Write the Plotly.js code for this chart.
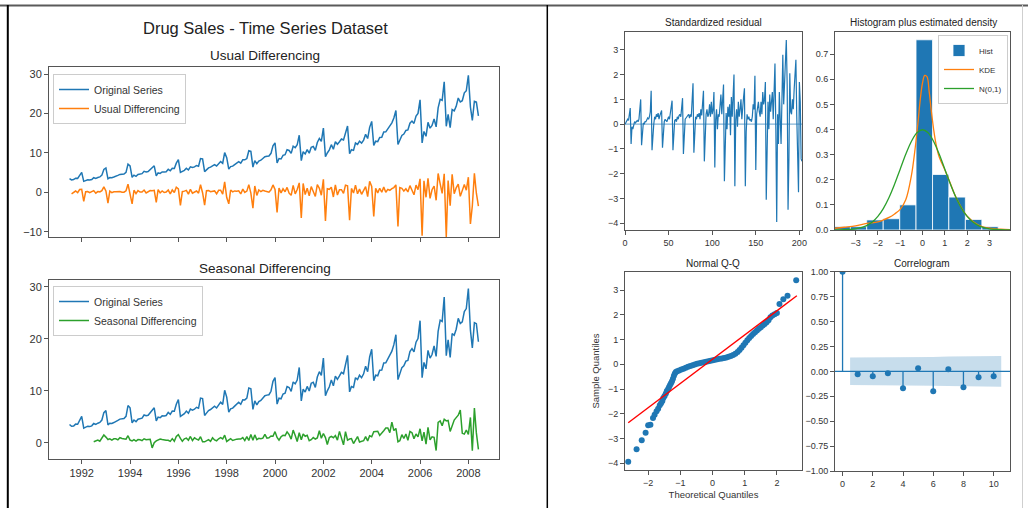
<!DOCTYPE html>
<html><head><meta charset="utf-8">
<script src="https://cdn.plot.ly/plotly-3.0.1.min.js"></script>
<style>html,body{margin:0;padding:0;background:#fff;} #chart{width:1028px;height:508px;}</style>
</head><body><div id="chart"></div>
<script>
// ---------------- DATA ----------------
const startYear = 1991, startMonth = 7;   // first observation: July 1991
const drugSales = [
  3.526591, 3.180891, 3.252221, 3.611003, 3.565869, 4.306371,
  5.088335, 2.814520, 2.985811, 3.204780, 3.127578, 3.270523, 3.737851, 3.558776, 3.777202, 3.924490, 4.386531, 5.810549,
  6.192068, 3.450857, 3.772307, 3.734303, 3.905399, 4.049687, 4.315566, 4.562185, 4.608662, 4.667851, 5.093841, 7.179962,
  6.731473, 3.841278, 4.394076, 4.075341, 4.540645, 4.645615, 4.752607, 5.350605, 5.204455, 5.301651, 5.773742, 6.204593,
  6.749484, 4.216067, 4.949234, 4.823660, 5.194137, 5.170886, 5.256148, 5.855277, 5.490729, 6.115293, 6.088473, 7.416598,
  8.329452, 5.069796, 5.262557, 5.597126, 6.110296, 5.689161, 6.486849, 6.300816, 6.467053, 6.828983, 6.649205, 8.606629,
  8.524471, 5.277159, 5.714448, 6.214568, 6.411023, 6.667330, 7.050713, 6.704671, 7.250530, 7.819868, 7.398289, 10.096774,
  8.798154, 5.918055, 6.534890, 6.675970, 7.064683, 7.383917, 7.813890, 7.431346, 8.275305, 8.260216, 8.596746, 10.558415,
  10.391524, 6.421851, 8.062619, 7.297252, 7.936694, 8.165345, 8.717925, 9.070072, 9.177478, 9.251775, 9.915769, 11.821892,
  12.552402, 7.457199, 8.591191, 8.474000, 9.386803, 9.560399, 10.834295, 10.643751, 9.908278, 11.710885, 11.340151, 12.079132,
  14.497581, 8.049275, 10.312891, 9.753358, 10.850382, 9.961719, 11.443601, 11.659239, 10.647060, 12.652134, 13.674466, 12.965735,
  16.300269, 9.053485, 10.002449, 10.788750, 12.106705, 10.954101, 12.844566, 12.196500, 12.854748, 13.542004, 13.287640, 15.134918,
  16.828350, 9.800215, 10.816994, 10.654223, 12.512323, 12.161210, 12.998046, 12.517276, 13.268658, 14.733622, 13.669382, 16.503966,
  18.003768, 11.938030, 12.997900, 12.882645, 13.943447, 13.989472, 15.339097, 15.370764, 16.142005, 16.685754, 17.636728, 18.869325,
  20.778723, 12.154552, 13.402392, 14.459239, 14.795102, 15.705248, 15.829550, 17.554701, 18.100864, 17.496668, 19.347265, 20.031291,
  23.486694, 12.536987, 15.467018, 14.233539, 17.783058, 16.291602, 16.980282, 18.612189, 16.623343, 21.430241, 23.575517, 23.334206,
  28.038383, 16.763869, 19.792754, 16.427305, 21.000742, 20.681002, 21.834890, 23.930204, 22.930357, 23.263340, 25.250030, 25.806090,
  29.665356, 21.654285, 18.264945, 23.107677, 22.912510, 19.431740
];
const yearTicks = [1992, 1994, 1996, 1998, 2000, 2002, 2004, 2006, 2008];

const residuals = [
  0.0, 0.05, 0.1, 0.2, 0.15, 0.4, 0.65, -0.8, -0.1, -0.2, 0.0, 0.1,
  0.05, 0.1, 0.15, 0.1, 0.2, 0.6, 1.0, -0.85, -0.1, 0.05, 0.0, 0.1,
  0.1, 0.2, 0.25, 0.2, 0.3, 0.5, 1.35, -1.05, -0.2, 0.0, 0.3, 0.2,
  0.4, 0.3, 0.45, 0.2, 0.35, 0.5, 0.55, -0.95, -0.1, 0.1, 0.2, 0.15,
  0.1, 0.2, 0.3, 0.2, 0.4, 0.6, 0.95, -1.05, 0.0, 0.15, 0.2, 0.1,
  0.3, 0.2, 0.35, 0.4, 0.3, 0.7, 1.05, -1.2, -0.1, 0.2, 0.25, 0.3,
  0.3, 0.4, 0.25, 0.4, 0.3, 0.9, 1.65, -1.15, 0.0, 0.3, 0.2, 0.4,
  0.3, 0.45, 0.2, 0.6, 0.35, 0.8, 1.35, -1.5, 0.1, 0.4, 0.6, 0.3,
  0.4, 0.8, 0.3, 0.9, 0.4, 0.6, 1.3, -1.75, 0.2, 0.6, -0.2, 0.4,
  0.3, 0.9, 1.2, 0.4, 1.1, 1.6, -2.3, 0.1, 0.45, -0.2, 0.7, 0.3,
  0.8, -0.45, 1.1, 0.3, 1.3, 2.0, -2.5, 0.2, 0.6, -0.1, 0.9, 0.3,
  0.6, 1.0, 0.2, 0.8, 1.1, 1.45, -2.5, -0.3, 0.4, 0.2, 0.3, 0.15,
  0.2, 0.1, 0.3, 0.8, 0.6, 1.95, -1.85, 0.4, 0.6, 0.9, 0.5, 0.3,
  0.9, 0.4, 1.3, 0.8, 1.0, 1.7, -3.05, 0.3, 0.9, -0.2, 1.2, 0.5,
  0.8, 1.3, 0.2, 1.5, 2.45, -0.2, -3.95, 0.4, -0.8, 1.3, 0.2, -0.8,
  1.0, 2.8, 0.8, 1.7, 2.2, 3.4, 1.6, -3.45, -1.4, 2.05, 0.5, 0.4,
  1.0, 0.6, 1.4, 2.0, 2.6, 0.3, -1.4, -2.75, 1.7, 0.9, -1.4, -1.5
];

const histEdges   = [-3.97, -3.23, -2.50, -1.76, -1.02, -0.29, 0.45, 1.18, 1.92, 2.66, 3.39];
const histDensity = [0.0133, 0.0133, 0.040, 0.045, 0.100, 0.757, 0.221, 0.131, 0.042, 0.0133];

const normX = [-3.92,-3.75,-3.5,-3.25,-3,-2.75,-2.5,-2.25,-2,-1.75,-1.5,-1.25,-1,-0.75,-0.5,-0.25,0,0.25,0.5,0.75,1,1.25,1.5,1.75,2,2.25,2.5,2.75,3,3.25,3.5,3.75,3.92];
const normY = [0.0002,0.0004,0.0009,0.0020,0.0044,0.0091,0.0175,0.0317,0.0540,0.0863,0.1295,0.1826,0.2420,0.3011,0.3521,0.3867,0.3989,0.3867,0.3521,0.3011,0.2420,0.1826,0.1295,0.0863,0.0540,0.0317,0.0175,0.0091,0.0044,0.0020,0.0009,0.0004,0.0002];
const kdeX = [-3.92,-3.5,-3,-2.5,-2,-1.75,-1.5,-1.25,-1,-0.75,-0.5,-0.35,-0.2,-0.1,0,0.1,0.2,0.3,0.4,0.5,0.6,0.75,1,1.25,1.5,1.75,2,2.5,3,3.5,3.92];
const kdeY = [0.007,0.011,0.016,0.026,0.032,0.04,0.05,0.064,0.082,0.12,0.215,0.31,0.43,0.52,0.585,0.615,0.61,0.55,0.47,0.40,0.345,0.29,0.24,0.185,0.13,0.088,0.055,0.02,0.007,0.003,0.001];

const qqTheoretical = [-2.62,-2.36,-2.2,-2.08,-2.0,-1.93,-1.85,-1.8,-1.74,-1.69,-1.64,-1.6,-1.56,-1.53,-1.49,-1.45,-1.42,-1.38,-1.35,-1.32,-1.29,-1.26,-1.23,-1.2,-1.17,-1.14,-1.1,
  -1.04,-0.97,-0.9,-0.83,-0.76,-0.69,-0.62,-0.55,-0.48,-0.41,-0.34,-0.27,-0.2,-0.13,-0.06,0.01,0.08,0.15,0.22,0.29,0.36,0.43,0.5,0.57,0.64,0.71,0.78,0.84,0.9,0.96,1.02,1.08,1.14,1.2,1.26,1.32,1.38,1.44,1.5,1.56,1.62,1.68,1.74,1.8,1.86,1.93,2.0,
  2.08,2.2,2.33,2.6];
const qqSample = [-3.94,-3.43,-3.07,-2.76,-2.46,-2.44,-2.17,-2.04,-1.9,-1.8,-1.65,-1.57,-1.48,-1.36,-1.28,-1.18,-1.08,-1.0,-0.92,-0.84,-0.76,-0.68,-0.58,-0.46,-0.37,-0.31,-0.28,
  -0.25,-0.21,-0.18,-0.14,-0.1,-0.07,-0.04,-0.01,0.02,0.04,0.06,0.08,0.1,0.12,0.14,0.16,0.18,0.2,0.22,0.24,0.26,0.28,0.31,0.34,0.38,0.43,0.5,0.58,0.67,0.77,0.87,0.97,1.06,1.14,1.22,1.3,1.37,1.44,1.5,1.57,1.63,1.7,1.78,1.9,1.97,2.02,2.07,
  2.44,2.63,2.77,3.4];
const qqLineX = [-2.62, 2.62];
const qqLineY = [-2.36, 2.77];

const acfLags   = [0, 1, 2, 3, 4, 5, 6, 7, 8, 9, 10];
const acfValues = [1.0, -0.03, -0.05, -0.02, -0.17, 0.03, -0.20, 0.02, -0.16, -0.06, -0.05];
const confLags  = [0.5, 2, 3, 4, 5, 6, 7, 8, 9, 10.5];
const confUpper = [0.138, 0.138, 0.139, 0.140, 0.143, 0.144, 0.148, 0.149, 0.152, 0.154];

// ---------------- HELPERS ----------------
const W = 1028, H = 508;
const FONT = '"Liberation Sans", Arial, sans-serif';
const BLUE = '#1f77b4', ORANGE = '#ff7f0e', GREEN = '#2ca02c';
const px = v => v / W;
const py = v => 1 - v / H;
function monthDate(i) {
  const m0 = startMonth - 1 + i;
  const y = startYear + Math.floor(m0 / 12);
  const m = (m0 % 12) + 1;
  return y + '-' + String(m).padStart(2, '0') + '-01';
}
const dates = drugSales.map((_, i) => monthDate(i));
const usualDiff = [], usualDates = [];
for (let i = 1; i < drugSales.length; i++) { usualDiff.push(drugSales[i] - drugSales[i - 1]); usualDates.push(dates[i]); }
const seasDiff = [], seasDates = [];
for (let i = 12; i < drugSales.length; i++) { seasDiff.push(drugSales[i] - drugSales[i - 12]); seasDates.push(dates[i]); }
const residIndex = residuals.map((_, i) => i);
const histCenters = histDensity.map((_, i) => (histEdges[i] + histEdges[i + 1]) / 2);
const histWidths = histDensity.map((_, i) => histEdges[i + 1] - histEdges[i]);
const stemX = [], stemY = [];
acfLags.forEach((l, i) => { stemX.push(l, l, null); stemY.push(0, acfValues[i], null); });
const confLower = confUpper.map(v => -v);

// ---------------- TRACES ----------------
const traces = [
  {x: dates, y: drugSales, xaxis: 'x', yaxis: 'y', type: 'scatter', mode: 'lines', name: 'Original Series', line: {color: BLUE, width: 1.5}, legend: 'legend'},
  {x: usualDates, y: usualDiff, xaxis: 'x', yaxis: 'y', type: 'scatter', mode: 'lines', name: 'Usual Differencing', line: {color: ORANGE, width: 1.5}, legend: 'legend'},
  {x: dates, y: drugSales, xaxis: 'x2', yaxis: 'y2', type: 'scatter', mode: 'lines', name: 'Original Series', line: {color: BLUE, width: 1.5}, legend: 'legend2'},
  {x: seasDates, y: seasDiff, xaxis: 'x2', yaxis: 'y2', type: 'scatter', mode: 'lines', name: 'Seasonal Differencing', line: {color: GREEN, width: 1.5}, legend: 'legend2'},
  {x: residIndex, y: residuals, xaxis: 'x3', yaxis: 'y3', type: 'scatter', mode: 'lines', line: {color: BLUE, width: 1.2}, showlegend: false},
  {x: histCenters, y: histDensity, width: histWidths, xaxis: 'x4', yaxis: 'y4', type: 'bar', name: 'Hist', marker: {color: BLUE, line: {color: '#ffffff', width: 0.8}}, legend: 'legend3'},
  {x: kdeX, y: kdeY, xaxis: 'x4', yaxis: 'y4', type: 'scatter', mode: 'lines', name: 'KDE', line: {color: ORANGE, width: 1.3, shape: 'spline'}, legend: 'legend3'},
  {x: normX, y: normY, xaxis: 'x4', yaxis: 'y4', type: 'scatter', mode: 'lines', name: 'N(0,1)', line: {color: GREEN, width: 1.3, shape: 'spline'}, legend: 'legend3'},
  {x: qqTheoretical, y: qqSample, xaxis: 'x5', yaxis: 'y5', type: 'scatter', mode: 'markers', marker: {color: BLUE, size: 6}, showlegend: false},
  {x: qqLineX, y: qqLineY, xaxis: 'x5', yaxis: 'y5', type: 'scatter', mode: 'lines', line: {color: 'red', width: 1.4}, showlegend: false},
  {x: confLags, y: confLower, xaxis: 'x6', yaxis: 'y6', type: 'scatter', mode: 'lines', line: {width: 0, color: 'rgba(0,0,0,0)'}, showlegend: false},
  {x: confLags, y: confUpper, xaxis: 'x6', yaxis: 'y6', type: 'scatter', mode: 'lines', fill: 'tonexty', fillcolor: 'rgba(31,119,180,0.25)', line: {width: 0, color: 'rgba(0,0,0,0)'}, showlegend: false},
  {x: stemX, y: stemY, xaxis: 'x6', yaxis: 'y6', type: 'scatter', mode: 'lines', line: {color: BLUE, width: 1.3}, showlegend: false},
  {x: acfLags, y: acfValues, xaxis: 'x6', yaxis: 'y6', type: 'scatter', mode: 'markers', marker: {color: BLUE, size: 6}, showlegend: false}
];

// ---------------- LAYOUT ----------------
function axis(domain, extra, fs) {
  return Object.assign({
    domain: domain, showline: true, mirror: true, linecolor: '#555', linewidth: 1,
    ticks: 'outside', ticklen: 4, tickwidth: 1, tickcolor: '#555',
    showgrid: false, zeroline: false, fixedrange: true,
    tickfont: {family: FONT, size: fs, color: '#333'}
  }, extra);
}
const LX = [px(49), px(499)];
const RX1 = [px(625), px(802)];
const RX2 = [px(835), px(1010)];
const yearVals = yearTicks.map(y => y + '-01-01');
const yearText = yearTicks.map(String);

function ann(text, x, y, size, extra) {
  return Object.assign({text: text, x: px(x), y: py(y), xref: 'paper', yref: 'paper', showarrow: false,
    xanchor: 'center', yanchor: 'middle', font: {family: FONT, size: size, color: '#222'}}, extra || {});
}

const legendBase = {bgcolor: 'rgba(255,255,255,0.85)', bordercolor: '#cccccc', borderwidth: 1,
  xanchor: 'left', yanchor: 'top', itemwidth: 30, tracegroupgap: 0, traceorder: 'normal'};

const layout = {
  width: W, height: H, margin: {l: 0, r: 0, t: 0, b: 0},
  paper_bgcolor: '#ffffff', plot_bgcolor: '#ffffff', showlegend: true,
  xaxis: axis(LX, {anchor: 'y', type: 'date', range: ['1990-08-25', '2009-04-08'], tickvals: yearVals, ticktext: yearText, showticklabels: false}, 11),
  yaxis: axis([py(237), py(67)], {anchor: 'x', range: [-11.3, 31.8], tickvals: [-10, 0, 10, 20, 30]}, 11),
  xaxis2: axis(LX, {anchor: 'y2', type: 'date', range: ['1990-08-25', '2009-04-08'], tickvals: yearVals, ticktext: yearText}, 11),
  yaxis2: axis([py(459), py(280)], {anchor: 'x2', range: [-3.1, 31.3], tickvals: [0, 10, 20, 30]}, 11),
  xaxis3: axis(RX1, {anchor: 'y3', range: [0, 203], tickvals: [0, 50, 100, 150, 200]}, 9),
  yaxis3: axis([py(230), py(32)], {anchor: 'x3', range: [-4.27, 3.72], tickvals: [-4, -3, -2, -1, 0, 1, 2, 3]}, 9),
  xaxis4: axis(RX2, {anchor: 'y4', range: [-3.92, 3.92], tickvals: [-3, -2, -1, 0, 1, 2, 3]}, 9),
  yaxis4: axis([py(230), py(32)], {anchor: 'x4', range: [0, 0.788], tickvals: [0, 0.1, 0.2, 0.3, 0.4, 0.5, 0.6, 0.7], tickformat: '.1f'}, 9),
  xaxis5: axis(RX1, {anchor: 'y5', range: [-2.72, 2.78], tickvals: [-2, -1, 0, 1, 2],
    title: {text: 'Theoretical Quantiles', font: {family: FONT, size: 9.5, color: '#333'}, standoff: 4}}, 9),
  yaxis5: axis([py(470), py(272)], {anchor: 'x5', range: [-4.27, 3.73], tickvals: [-4, -3, -2, -1, 0, 1, 2, 3],
    title: {text: 'Sample Quantiles', font: {family: FONT, size: 9.5, color: '#333'}, standoff: 6}}, 9),
  xaxis6: axis(RX2, {anchor: 'y6', range: [-0.5, 11.08], tickvals: [0, 2, 4, 6, 8, 10]}, 9),
  yaxis6: axis([py(471), py(271.7)], {anchor: 'x6', range: [-1, 1], tickvals: [-1, -0.75, -0.5, -0.25, 0, 0.25, 0.5, 0.75, 1], tickformat: '.2f'}, 9),
  bargap: 0,
  legend: Object.assign({}, legendBase, {x: px(53), y: py(74), font: {family: FONT, size: 10.5, color: '#333'}}),
  legend2: Object.assign({}, legendBase, {x: px(53), y: py(286), font: {family: FONT, size: 10.5, color: '#333'}}),
  legend3: Object.assign({}, legendBase, {x: px(1008), y: py(35), xanchor: 'right', font: {family: FONT, size: 8, color: '#333'}}),
  annotations: [
    ann('Drug Sales - Time Series Dataset', 265, 28, 16.5),
    ann('Usual Differencing', 265, 55, 13.5),
    ann('Seasonal Differencing', 265, 268, 13.5),
    ann('Standardized residual', 713, 22, 10),
    ann('Histogram plus estimated density', 923, 22, 10),
    ann('Normal Q-Q', 713, 263, 10),
    ann('Correlogram', 922, 263, 10)
  ],
  shapes: [
    {type: 'line', xref: 'paper', yref: 'paper', x0: 0, x1: 1, y0: py(5.5), y1: py(5.5), line: {color: '#5a5a5a', width: 2}},
    {type: 'line', xref: 'paper', yref: 'paper', x0: px(7.8), x1: px(7.8), y0: py(5), y1: 0, line: {color: '#000', width: 2}},
    {type: 'line', xref: 'paper', yref: 'paper', x0: px(547.3), x1: px(547.3), y0: py(5), y1: 0, line: {color: '#000', width: 1.5}},
    {type: 'line', xref: 'paper', yref: 'paper', x0: px(1022.5), x1: px(1022.5), y0: py(5), y1: 0, line: {color: '#cfcfcf', width: 1}},
    {type: 'line', xref: 'x3 domain', yref: 'y3', x0: 0, x1: 1, y0: 0, y1: 0, line: {color: 'rgba(31,119,180,0.55)', width: 1.3}},
    {type: 'line', xref: 'x6 domain', yref: 'y6', x0: 0, x1: 1, y0: 0, y1: 0, line: {color: BLUE, width: 1.3}}
  ]
};

Plotly.newPlot('chart', traces, layout, {displayModeBar: false, staticPlot: true});
</script>
</body></html>
